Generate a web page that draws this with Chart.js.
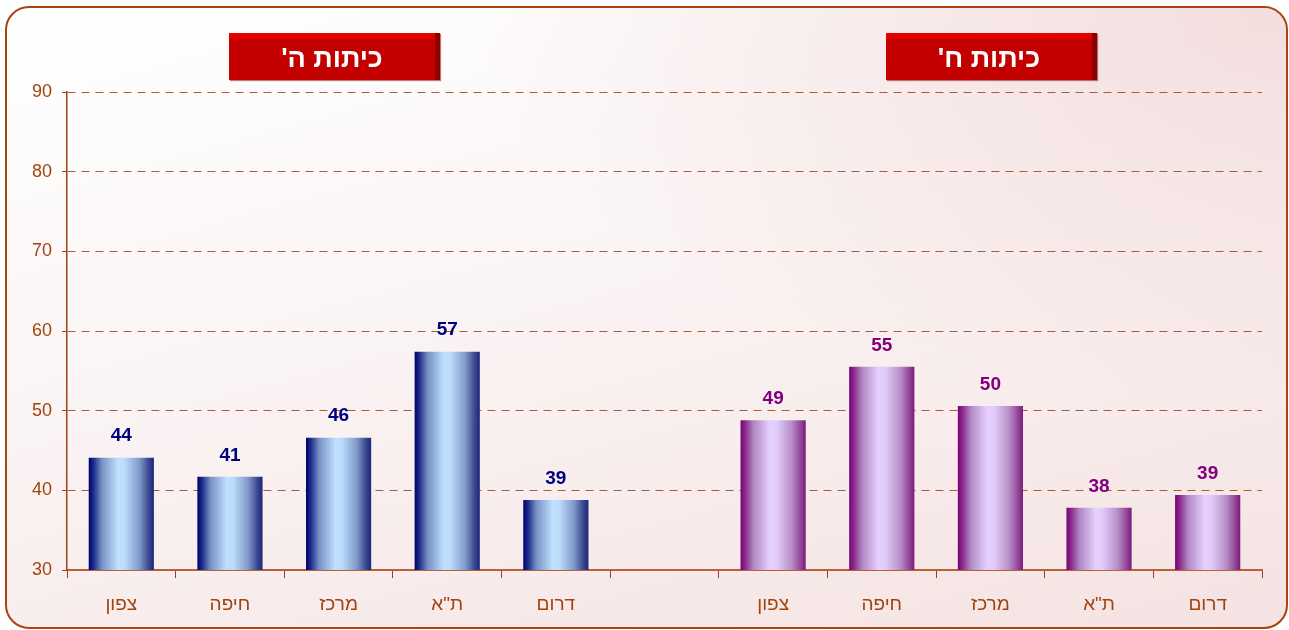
<!DOCTYPE html>
<html>
<head>
<meta charset="utf-8">
<script src="https://cdn.jsdelivr.net/npm/chart.js@4.4.0/dist/chart.umd.min.js"></script>
<style>
  html, body { margin: 0; padding: 0; width: 1289px; height: 630px; overflow: hidden; background: #ffffff; }
  #frame {
    position: absolute; left: 5px; top: 6px; width: 1279px; height: 619px;
    border: 2px solid #a8440f; border-radius: 24px;
    background: linear-gradient(165deg, #ffffff 0%, #fbf5f5 40%, #f5e2e2 100%);
  }
  #frame::after {
    content: ""; position: absolute; inset: 0; border-radius: 22px;
    background: radial-gradient(ellipse at 100% 0%, rgba(238,205,205,0.6) 0%, rgba(238,205,205,0) 45%);
  }
  canvas { position: absolute; left: 0; top: 0; }
  .tag {
    position: absolute; top: 33px; height: 47px; width: 211px;
    background: linear-gradient(180deg, #e80000 0px, #e00000 5px, #c40000 7px, #c20000 100%);
    border-right: 5px solid #8e0000; box-sizing: border-box;
    color: #ffffff; font-family: "Liberation Sans", Arial, sans-serif; font-weight: bold;
    font-size: 27px; line-height: 50px; text-align: center; direction: rtl;
    box-shadow: 1px 1px 1px rgba(120,0,0,0.5);
  }
</style>
</head>
<body>
<div id="frame"></div>
<canvas id="c" width="1289" height="630"></canvas>
<div class="tag" style="left:229px;">כיתות ה'</div>
<div class="tag" style="left:886px;">כיתות ח'</div>
<script>
const categories = ['צפון', 'חיפה', 'מרכז', 'ת"א', 'דרום', '', 'צפון', 'חיפה', 'מרכז', 'ת"א', 'דרום'];
const gradeFive = [44.1, 41.7, 46.6, 57.4, 38.8];
const gradeEight = [48.8, 55.5, 50.6, 37.8, 39.4];
const gradeFiveLabels = ['44', '41', '46', '57', '39'];
const gradeEightLabels = ['49', '55', '50', '38', '39'];
const yTicks = [30, 40, 50, 60, 70, 80, 90];

const fiveData = gradeFive.concat(new Array(6).fill(null));
const eightData = new Array(6).fill(null).concat(gradeEight);
const fiveText = gradeFiveLabels.concat(new Array(6).fill(''));
const eightText = new Array(6).fill('').concat(gradeEightLabels);

const brown = '#a0440f';
const BAR_PCT = 0.6;

function makeGradient(stops) {
  return function (ctx) {
    const chart = ctx.chart;
    const sx = chart.scales.x;
    if (!sx || !chart.chartArea) return stops[2][1];
    const cw = (sx.right - sx.left) / categories.length;
    const cx = sx.getPixelForValue(ctx.dataIndex);
    const w = cw * BAR_PCT;
    const g = chart.ctx.createLinearGradient(cx - w / 2, 0, cx + w / 2, 0);
    stops.forEach(s => g.addColorStop(s[0], s[1]));
    return g;
  };
}
const blueStops = [[0, '#00006e'], [0.07, '#1a2a88'], [0.2, '#7890c4'], [0.45, '#bfe0ff'], [0.55, '#bcdcfc'], [0.78, '#8098c8'], [0.92, '#3a4890'], [1, '#1c2678']];
const purpleStops = [[0, '#780078'], [0.07, '#8a2a8a'], [0.2, '#b088c4'], [0.45, '#e6d0ff'], [0.55, '#e2ccfa'], [0.78, '#b890c8'], [0.92, '#94489a'], [1, '#7c1a7c']];

const labelPlugin = {
  id: 'valueLabels',
  afterDatasetsDraw(chart) {
    const ctx = chart.ctx;
    ctx.save();
    ctx.font = 'bold 19px "Liberation Sans", Arial, sans-serif';
    ctx.textAlign = 'center';
    ctx.textBaseline = 'bottom';
    chart.data.datasets.forEach((ds, di) => {
      const meta = chart.getDatasetMeta(di);
      ctx.fillStyle = ds.labelColor;
      meta.data.forEach((el, i) => {
        const t = ds.texts[i];
        if (!t || ds.data[i] == null) return;
        ctx.fillText(t, el.x, el.y - 12);
      });
    });
    ctx.restore();
  }
};

new Chart(document.getElementById('c'), {
  type: 'bar',
  data: {
    labels: categories,
    datasets: [
      { label: "כיתות ה'", data: fiveData, texts: fiveText, labelColor: '#000080',
        backgroundColor: makeGradient(blueStops), grouped: false,
        barPercentage: BAR_PCT, categoryPercentage: 1 },
      { label: "כיתות ח'", data: eightData, texts: eightText, labelColor: '#800080',
        backgroundColor: makeGradient(purpleStops), grouped: false,
        barPercentage: BAR_PCT, categoryPercentage: 1 }
    ]
  },
  options: {
    responsive: false,
    animation: false,
    devicePixelRatio: 1,
    layout: { padding: { left: 0, top: 92, right: 27, bottom: 0 } },
    plugins: { legend: { display: false }, tooltip: { enabled: false } },
    scales: {
      x: {
        grid: { offset: true, drawOnChartArea: false, drawTicks: true, tickLength: 8, color: brown, lineWidth: 1 },
        border: { display: true, color: '#b8603a', width: 2 },
        ticks: { color: brown, padding: 15, font: { family: '"Liberation Sans", Arial, sans-serif', size: 19 }, maxRotation: 0, autoSkip: false },
        afterFit(scale) { scale.height = 60; }
      },
      y: {
        min: 30, max: 90,
        afterBuildTicks(scale) { scale.ticks = yTicks.map(v => ({ value: v })); },
        grid: { color: '#b05a30', lineWidth: 1, tickLength: 5, drawTicks: true,
                tickColor: brown, tickBorderDash: [] },
        border: { display: true, color: brown, width: 1.5, dash: [8, 6] },
        ticks: { color: brown, padding: 10, font: { family: '"Liberation Sans", Arial, sans-serif', size: 18 } },
        afterFit(scale) { scale.width = 67; }
      }
    }
  },
  plugins: [labelPlugin]
});
</script>
</body>
</html>
